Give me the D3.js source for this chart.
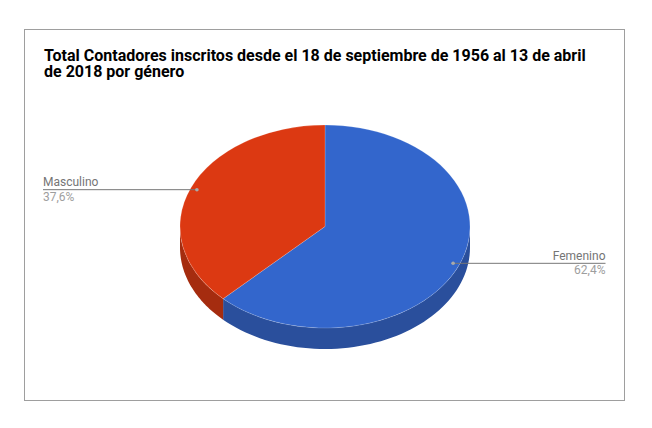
<!DOCTYPE html>
<html>
<head>
<meta charset="utf-8">
<script src="https://cdn.jsdelivr.net/npm/d3@7"></script>
<style>
  body { margin: 0; background: #fff; }
  text { font-family: Roboto, Arial, sans-serif; }
</style>
</head>
<body>
<div id="chart"></div>
<script>
// Data
const categories = ['Femenino', 'Masculino'];
const values = [62.4, 37.6];
const percentLabels = ['62,4%', '37,6%'];
const colors = ['#3366cc', '#dc3912'];
const sideColors = ['#2a4f9c', '#a52c0f'];
const titleLines = ['Total Contadores inscritos desde el 18 de septiembre de 1956 al 13 de abril', 'de 2018 por género'];

const W = 652, H = 428;
const cx = 325, cy = 226.5, rx = 145, ry = 101.5, depth = 21;

const svg = d3.select('#chart')
    .append('svg')
    .attr('width', W)
    .attr('height', H);

// Frame
svg.append('rect')
    .attr('x', 24.5).attr('y', 29.5)
    .attr('width', 600).attr('height', 371)
    .attr('fill', '#fff')
    .attr('stroke', '#9e9e9e')
    .attr('stroke-width', 1);

// Title
svg.append('text')
    .attr('x', 44).attr('y', 61)
    .attr('font-size', 16)
    .attr('font-weight', 'bold')
    .attr('fill', '#000')
    .selectAll('tspan')
    .data(titleLines)
    .enter()
    .append('tspan')
    .attr('x', 44)
    .attr('dy', (d, i) => i === 0 ? 0 : 16)
    .text(d => d);

const pie = d3.pie().sort(null).value(d => d);
const arcs = pie(values);

// point on ellipse, angle clockwise from top
const pt = (a, f = 1, dy = 0) => [cx + rx * f * Math.sin(a), cy - ry * f * Math.cos(a) + dy];

// Side walls (only the front half is visible)
const sides = svg.append('g');
arcs.forEach((d, i) => {
    const a0 = Math.max(d.startAngle, Math.PI / 2);
    const a1 = Math.min(d.endAngle, Math.PI * 3 / 2);
    if (a1 <= a0) return;
    const n = 60;
    const upper = d3.range(n + 1).map(k => pt(a0 + (a1 - a0) * k / n));
    const lower = upper.slice().reverse().map(p => [p[0], p[1] + depth]);
    sides.append('path')
        .attr('d', d3.line()(upper.concat(lower)) + 'Z')
        .attr('fill', sideColors[i]);
});

// Top face
const face = svg.append('g')
    .attr('transform', `translate(${cx},${cy}) scale(1,${ry / rx})`);
const arcGen = d3.arc().innerRadius(0).outerRadius(rx);
face.selectAll('path')
    .data(arcs)
    .enter()
    .append('path')
    .attr('d', arcGen)
    .attr('fill', (d, i) => colors[i])
    .attr('stroke', 'rgba(255,255,255,0.35)')
    .attr('stroke-width', 0.6);

// Labels with leader lines
arcs.forEach((d, i) => {
    const mid = (d.startAngle + d.endAngle) / 2;
    const [px, py] = pt(mid, 0.955);
    const right = Math.sin(mid) > 0;
    const ex = right ? 605.5 : 43;
    svg.append('line')
        .attr('x1', px).attr('y1', py)
        .attr('x2', ex).attr('y2', py)
        .attr('stroke', '#777')
        .attr('stroke-width', 1);
    svg.append('circle')
        .attr('cx', px).attr('cy', py).attr('r', 1.8)
        .attr('fill', '#aaa');
    svg.append('text')
        .attr('x', ex).attr('y', py - 3.5)
        .attr('text-anchor', right ? 'end' : 'start')
        .attr('font-size', 12)
        .attr('fill', '#757575')
        .text(categories[i]);
    svg.append('text')
        .attr('x', ex).attr('y', py + 11)
        .attr('text-anchor', right ? 'end' : 'start')
        .attr('font-size', 12)
        .attr('fill', '#9e9e9e')
        .text(percentLabels[i]);
});
</script>
</body>
</html>
